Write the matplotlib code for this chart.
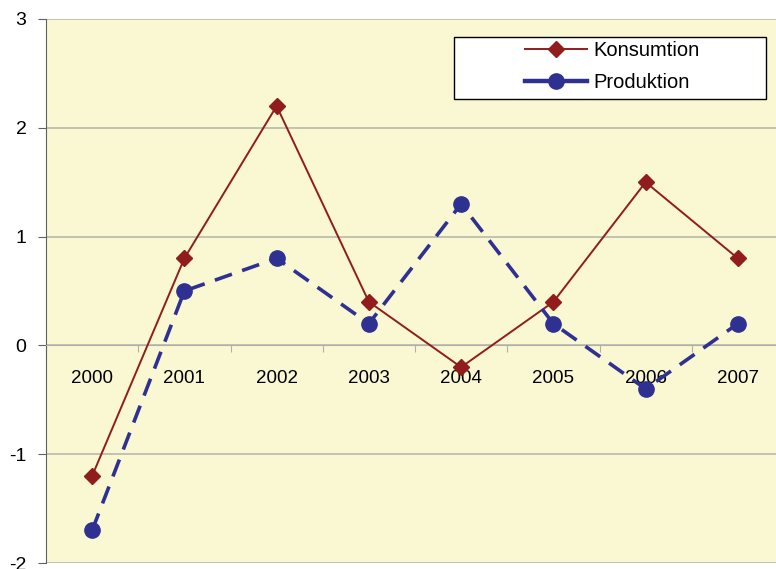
import numpy as np
import matplotlib.pyplot as plt
from matplotlib.patches import Rectangle
from matplotlib.lines import Line2D

plt.rcParams['font.family'] = ['Liberation Sans', 'DejaVu Sans']
plt.rcParams['axes.unicode_minus'] = False

years = ['2000', '2001', '2002', '2003', '2004', '2005', '2006', '2007']
konsumtion = [-1.2, 0.8, 2.2, 0.4, -0.2, 0.4, 1.5, 0.8]
produktion = [-1.7, 0.5, 0.8, 0.2, 1.3, 0.2, -0.4, 0.2]

red = '#911c1c'
blue = '#2e3192'

W, H = 776, 569
fig = plt.figure(figsize=(W / 100, H / 100), dpi=100)
# plot area runs a bit past the right edge of the picture
left, right, top, bottom = 46, 784, 19, 563
ax = fig.add_axes([left / W, 1 - bottom / H, (right - left) / W, (bottom - top) / H])
ax.set_facecolor('#faf7d3')

x = np.arange(len(years))
ax.plot(x, konsumtion, color=red, lw=1.4, marker='D', ms=8, zorder=3)
ax.plot(x, produktion, color=blue, lw=2.6, ls=(0, (5, 3)), marker='o', ms=11, zorder=3)

ax.set_xlim(-0.5, len(years) - 0.5)
ax.set_ylim(-2, 3)
ax.set_yticks(range(-2, 4))
ax.grid(axis='y', color='#b9b9ae', lw=1.2)
ax.set_axisbelow(True)

for s in ['top', 'right']:
    ax.spines[s].set_visible(False)
ax.spines['left'].set_color('#606060')
ax.spines['bottom'].set_position(('data', 0))
ax.spines['bottom'].set_color('#b0b0a8')

ax.set_xticks(np.arange(len(years) + 1) - 0.5)
ax.set_xticklabels([])
ax.set_xticks(x, minor=True)
ax.set_xticklabels(years, minor=True)
ax.tick_params(axis='x', which='major', length=5, color='#b0b0a8')
ax.tick_params(axis='x', which='minor', length=0, pad=18, labelsize=13.5)
ax.tick_params(axis='y', length=6, color='#606060', labelsize=14, pad=8)

# legend box drawn separately so it can be wider than its entries
ax.add_patch(Rectangle((454 / W, 1 - 99 / H), (766 - 454) / W, (99 - 37) / H,
                       transform=fig.transFigure, facecolor='white',
                       edgecolor='black', lw=1.0, zorder=5, clip_on=False))
handles = [Line2D([], [], color=red, lw=1.4, marker='D', ms=8),
           Line2D([], [], color=blue, lw=3.2, marker='o', ms=11)]
leg = ax.legend(handles, ['Konsumtion', 'Produktion'], loc='upper left',
                bbox_to_anchor=(525 / W, 1 - 41 / H),
                bbox_transform=fig.transFigure, fontsize=14.5, frameon=False,
                borderaxespad=0, borderpad=0, handlelength=3.1, labelspacing=0.65,
                handletextpad=0.3)
leg.set_zorder(6)

fig.savefig('out.png', dpi=100)
